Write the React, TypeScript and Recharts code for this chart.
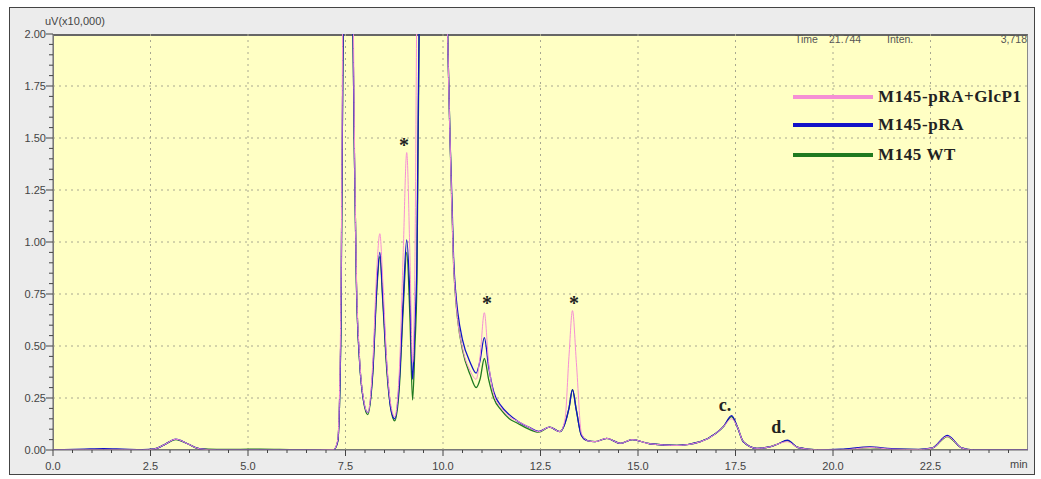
import { LineChart, Line, XAxis, YAxis, ReferenceLine, ReferenceDot } from "recharts";

// retention time (min)
const times = [
  0, 0.8, 1.3, 1.8, 2.3, 2.6, 2.85, 3.15, 3.45, 3.75, 4.2, 4.8, 5.3, 5.8, 6.5, 7.2,
  7.3, 7.38, 7.45, 7.58, 7.68, 7.73, 7.78, 7.86, 7.96, 8.07, 8.2, 8.3, 8.38, 8.46,
  8.56, 8.66, 8.76, 8.88, 8.98, 9.07, 9.15, 9.22, 9.28, 9.33, 9.4, 9.7, 10.0, 10.08,
  10.13, 10.18, 10.23, 10.27, 10.32, 10.38, 10.5, 10.7, 10.85, 10.95, 11.06, 11.17,
  11.3, 11.5, 11.7, 11.9, 12.2, 12.45, 12.73, 13.0, 13.13, 13.23, 13.32, 13.42, 13.55,
  13.7, 13.9, 14.2, 14.55, 14.85, 15.3, 16.0, 16.6, 17.0, 17.2, 17.4, 17.55, 17.7,
  18.05, 18.4, 18.6, 18.83, 19.1, 19.6, 20.2, 20.95, 21.5, 22.2, 22.55, 22.93, 23.3,
  23.6, 25,
];

// uV (x10,000)
const pinkSignal = [
  0, 0.001, 0.001, 0.001, 0, 0.005, 0.025, 0.052, 0.03, 0.006, 0, 0, 0, 0, 0, 0.002,
  0.05, 0.7, 2.6, 3.6, 2.5, 1.5, 0.85, 0.45, 0.25, 0.18, 0.42, 0.86, 1.04, 0.8,
  0.42, 0.22, 0.16, 0.38, 0.95, 1.43, 0.95, 0.42, 0.9, 2.2, 3.2, 4.0, 4.0, 2.4,
  1.9, 1.5, 1.15, 0.9, 0.74, 0.62, 0.49, 0.38, 0.34, 0.45, 0.66, 0.42,
  0.27, 0.2, 0.16, 0.14, 0.11, 0.088, 0.11, 0.088, 0.15, 0.45, 0.67, 0.42, 0.08,
  0.045, 0.04, 0.056, 0.032, 0.05, 0.03, 0.022, 0.04, 0.08, 0.115, 0.15, 0.11, 0.04,
  0.008, 0.016, 0.03, 0.04, 0.012, 0.001, 0, 0.012, 0.004, 0.002, 0.01, 0.065, 0.01,
  0, 0,
];

const blueSignal = [
  0, 0.004, 0.006, 0.004, 0.002, 0.005, 0.025, 0.052, 0.03, 0.006, 0, 0.001, 0, 0, 0, 0.002,
  0.04, 0.55, 2.3, 3.1, 2.2, 1.4, 0.8, 0.43, 0.24, 0.18, 0.38, 0.78, 0.95, 0.72,
  0.4, 0.2, 0.15, 0.33, 0.72, 1.01, 0.75, 0.34, 0.6, 0.9, 2.3, 3.2, 3.5, 2.4,
  1.9, 1.5, 1.2, 0.93, 0.77, 0.66, 0.53, 0.42, 0.37, 0.43, 0.54, 0.4,
  0.28, 0.21, 0.17, 0.14, 0.11, 0.09, 0.11, 0.088, 0.13, 0.2, 0.29, 0.19, 0.07,
  0.045, 0.04, 0.056, 0.032, 0.05, 0.03, 0.022, 0.04, 0.08, 0.115, 0.165, 0.11, 0.04,
  0.008, 0.016, 0.03, 0.047, 0.012, 0.001, 0.004, 0.015, 0.006, 0.003, 0.01, 0.07, 0.01,
  0, 0,
];

const greenSignal = [
  0, 0.001, 0.002, 0.001, 0, 0.005, 0.025, 0.05, 0.03, 0.006, 0.003, 0.003, 0.004, 0.003, 0.001, 0.002,
  0.04, 0.55, 2.3, 3.1, 2.2, 1.4, 0.8, 0.43, 0.24, 0.17, 0.37, 0.76, 0.93, 0.7,
  0.38, 0.2, 0.14, 0.3, 0.68, 0.95, 0.65, 0.24, 0.5, 0.8, 2.2, 3.2, 3.5, 2.4,
  1.9, 1.5, 1.15, 0.9, 0.74, 0.62, 0.48, 0.36, 0.3, 0.34, 0.44, 0.34,
  0.25, 0.19, 0.15, 0.13, 0.1, 0.086, 0.11, 0.088, 0.13, 0.2, 0.29, 0.19, 0.07,
  0.045, 0.04, 0.056, 0.032, 0.05, 0.03, 0.022, 0.04, 0.08, 0.115, 0.16, 0.11, 0.04,
  0.008, 0.016, 0.03, 0.045, 0.012, 0.001, 0.002, 0.012, 0.004, 0.002, 0.01, 0.065, 0.01,
  0, 0,
];

const seriesNames = ["M145-pRA+GlcP1", "M145-pRA", "M145 WT"];
const seriesColors = ["#f58fd4", "#1212c8", "#1f7a1f"];

const xMajorTicks = [0, 2.5, 5, 7.5, 10, 12.5, 15, 17.5, 20, 22.5];
const xTickLabels = ["0.0", "2.5", "5.0", "7.5", "10.0", "12.5", "15.0", "17.5", "20.0", "22.5"];
const yMajorTicks = [0, 0.25, 0.5, 0.75, 1, 1.25, 1.5, 1.75, 2];
const yTickLabels = ["0.00", "0.25", "0.50", "0.75", "1.00", "1.25", "1.50", "1.75", "2.00"];

// peak marks: time, intensity, text
const markTimes = [9.0, 11.13, 13.36, 17.23, 18.6];
const markValues = [1.49, 0.73, 0.73, 0.216, 0.11];
const markTexts = ["*", "*", "*", "c.", "d."];

const xAllTicks = Array.from({ length: 50 }, (_, i) => i * 0.5);
const yAllTicks = Array.from({ length: 41 }, (_, i) => Math.round(i * 5) / 100);

const data = times.map((t, i) => ({
  t,
  pink: pinkSignal[i],
  blue: blueSignal[i],
  green: greenSignal[i],
}));

const W = 1041;
const H = 479;
const PLOT = { top: 34, right: 13, bottom: 29, left: 53 };
const axisFont = "'Liberation Sans', Arial, sans-serif";

function findMajor(list: number[], v: number) {
  return list.findIndex((m) => Math.abs(m - v) < 1e-6);
}

const renderXTick = (props: any) => {
  const { x, y, payload } = props;
  const idx = findMajor(xMajorTicks, payload.value);
  const major = idx >= 0;
  return (
    <g key={"xt" + payload.value}>
      <line x1={x} x2={x} y1={y} y2={y + (major ? 6 : 3)} stroke="#444" />
      {major && (
        <text x={x} y={y + 20} textAnchor="middle" fontSize={11} fill="#444" fontFamily={axisFont}>
          {xTickLabels[idx]}
        </text>
      )}
    </g>
  );
};

const renderYTick = (props: any) => {
  const { x, y, payload } = props;
  const idx = findMajor(yMajorTicks, payload.value);
  const major = idx >= 0;
  return (
    <g key={"yt" + payload.value}>
      <line x1={x - (major ? 7 : 4)} x2={x} y1={y} y2={y} stroke="#444" />
      {major && (
        <text x={x - 7} y={y + 4} textAnchor="end" fontSize={11} fill="#444" fontFamily={axisFont}>
          {yTickLabels[idx]}
        </text>
      )}
    </g>
  );
};

export default function App() {
  const plotW = W - PLOT.left - PLOT.right;
  const plotH = H - PLOT.top - PLOT.bottom;
  return (
    <div style={{ position: "absolute", left: 0, top: 0, width: W, height: H, background: "#fff" }}>
      <div
        style={{
          position: "absolute", left: 9, top: 7, width: 1026, height: 468,
          background: "#ececec", border: "1px solid #444", boxSizing: "border-box",
        }}
      />
      <div
        style={{
          position: "absolute", left: PLOT.left, top: PLOT.top, width: plotW, height: plotH,
          background: "#ffffc4", border: "1px solid #8a8a8a", borderTop: "2px solid #666",
          boxSizing: "border-box",
        }}
      />
      <div style={{ position: "absolute", left: 45, top: 15, fontSize: 11, color: "#444", fontFamily: axisFont }}>
        uV(x10,000)
      </div>
      <div style={{ position: "absolute", left: 1010, top: 458, fontSize: 11, color: "#444", fontFamily: axisFont }}>
        min
      </div>
      <div style={{ position: "absolute", left: 0, top: 0 }}>
        <LineChart
          width={W}
          height={H}
          data={data}
          margin={{ top: PLOT.top, right: PLOT.right, bottom: 0, left: 0 }}
        >
          {xMajorTicks.slice(1).map((v) => (
            <ReferenceLine key={"vx" + v} x={v} stroke="#a8a890" strokeDasharray="2 4" />
          ))}
          {yMajorTicks.slice(1, -1).map((v) => (
            <ReferenceLine key={"hy" + v} y={v} stroke="#a8a890" strokeDasharray="2 4" />
          ))}
          <XAxis
            dataKey="t"
            type="number"
            domain={[0, 25]}
            ticks={xAllTicks}
            interval={0}
            height={PLOT.bottom}
            tickSize={0}
            tickMargin={0}
            tickLine={false}
            axisLine={{ stroke: "#666" }}
            tick={renderXTick}
          />
          <YAxis
            type="number"
            domain={[0, 2]}
            allowDataOverflow
            ticks={yAllTicks}
            interval={0}
            width={PLOT.left}
            tickSize={0}
            tickMargin={0}
            tickLine={false}
            axisLine={{ stroke: "#666" }}
            tick={renderYTick}
          />
          <Line type="monotone" dataKey="green" stroke={seriesColors[2]} strokeWidth={1.3} dot={false} isAnimationActive={false} />
          <Line type="monotone" dataKey="blue" stroke={seriesColors[1]} strokeWidth={1.3} dot={false} isAnimationActive={false} />
          <Line type="monotone" dataKey="pink" stroke={seriesColors[0]} strokeWidth={1} dot={false} isAnimationActive={false} />
          {markTimes.map((t, i) => (
            <ReferenceDot
              key={"m" + i}
              x={t}
              y={markValues[i]}
              r={0}
              ifOverflow="visible"
              shape={(p: any) => (
                <text
                  x={p.cx}
                  y={p.cy + (markTexts[i] === "*" ? 12 : 6)}
                  textAnchor="middle"
                  fontSize={markTexts[i] === "*" ? 20 : 18}
                  fontWeight="bold"
                  fill="#222"
                  fontFamily="'Liberation Serif', 'Times New Roman', serif"
                >
                  {markTexts[i]}
                </text>
              )}
            />
          ))}
        </LineChart>
      </div>
      <div
        style={{
          position: "absolute", left: 795, top: 33, width: 232, fontSize: 10.5, color: "#555",
          fontFamily: axisFont, display: "flex",
        }}
      >
        <span style={{ width: 34 }}>Time</span>
        <span style={{ width: 58 }}>21.744</span>
        <span>Inten.</span>
        <span style={{ flex: 1, textAlign: "right" }}>3,718</span>
      </div>
      <div style={{ position: "absolute", left: 793, top: 83 }}>
        {seriesNames.map((name, i) => (
          <div key={name} style={{ display: "flex", alignItems: "center", height: 28, marginTop: i === 2 ? 2 : 0 }}>
            <div style={{ width: 80, height: 4, background: seriesColors[i], marginRight: 5 }} />
            <span
              style={{
                fontFamily: "'Liberation Serif', 'Times New Roman', serif", fontWeight: "bold",
                fontSize: 17, letterSpacing: 0.6, color: "#222",
              }}
            >
              {name}
            </span>
          </div>
        ))}
      </div>
    </div>
  );
}
